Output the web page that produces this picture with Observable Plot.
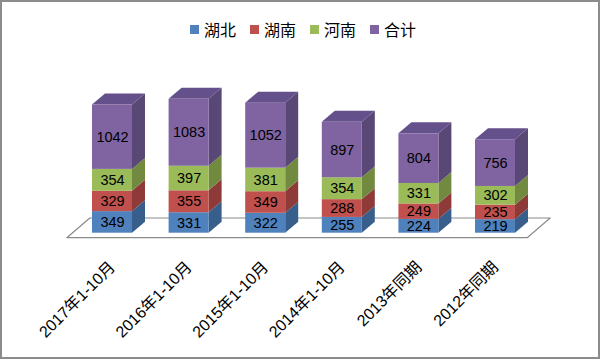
<!DOCTYPE html>
<html><head><meta charset="utf-8">
<script src="https://cdn.jsdelivr.net/npm/d3@7"></script>
<script src="https://cdn.jsdelivr.net/npm/@observablehq/plot@0.6"></script>
<style>
html,body{margin:0;padding:0;background:#fff;}
#wrap{position:relative;width:600px;height:359px;overflow:hidden;font-family:"Liberation Sans","Noto Sans CJK SC",sans-serif;background:#fff;}
#frame{position:absolute;left:0;top:0;width:600px;height:359px;box-sizing:border-box;border:2px solid #8c8c8c;pointer-events:none;}
#legend{height:58px;display:flex;align-items:center;justify-content:center;padding-left:6px;box-sizing:border-box;font-family:"Noto Sans CJK SC",sans-serif;font-size:16px;color:#000;}
.item{display:flex;align-items:center;margin:0 7px;}
.sw{width:9px;height:9px;margin-right:5px;}
svg{display:block;}
</style></head>
<body>
<div id="wrap"><div id="legend"></div><div id="chart"></div><div id="frame"></div></div>
<script>
const categories = ["2017年1-10月","2016年1-10月","2015年1-10月","2014年1-10月","2013年同期","2012年同期"];
const series = ["湖北","湖南","河南","合计"];
const hubei = [349,331,322,255,224,219];
const hunan = [329,355,349,288,249,235];
const henan = [354,397,381,354,331,302];
const heji  = [1042,1083,1052,897,804,756];

const frontColors = ["#4F81BD","#C0504D","#9BBB59","#8064A2"];
const sideColors  = ["#385E8B","#8E3A38","#718A40","#594776"];
const topColor = "#64508A";

// geometry helpers (scale-space constants)
const PX_PER_X = 76.6, PX_PER_Y = 0.0618;
const HALF = 20 / PX_PER_X;          // half front width
const DX = 13 / PX_PER_X, DY = 11 / PX_PER_Y; // bar depth

const values = [hubei, hunan, henan, heji];
const segments = [];
categories.forEach((c, i) => {
  let lo = 0;
  series.forEach((s, k) => {
    const v = values[k][i];
    segments.push({i, s, k, lo, hi: lo + v, v});
    lo += v;
  });
});
const sideData = segments.flatMap(d => [
  {key: d.i + "-" + d.k, x: d.i + HALF, y1: d.lo, y2: d.hi, c: d.s + "侧"},
  {key: d.i + "-" + d.k, x: d.i + HALF + DX, y1: d.lo + DY, y2: d.hi + DY, c: d.s + "侧"}
]);
const tops = segments.filter(d => d.k === series.length - 1);
const topData = tops.flatMap(d => [
  {key: d.i, y: d.hi, x1: d.i - HALF, x2: d.i + HALF},
  {key: d.i, y: d.hi + DY, x1: d.i - HALF + DX, x2: d.i + HALF + DX}
]);
const floorData = [
  {y: -81, x1: -0.59, x2: 5.42},
  {y: 238, x1: -0.29, x2: 5.72}
];

const colorDomain = [...series, ...series.map(s => s + "侧")];
const colorRange = [...frontColors, ...sideColors];

const legend = document.getElementById("legend");
series.forEach((s, k) => {
  const it = document.createElement("div"); it.className = "item";
  it.innerHTML = `<div class="sw" style="background:${frontColors[k]}"></div><span>${s}</span>`;
  legend.appendChild(it);
});

const chart = Plot.plot({
  width: 600, height: 301,
  marginBottom: 97,
  style: {fontFamily: '"Liberation Sans","Noto Sans CJK SC",sans-serif', fontSize: "15px", color: "#000", background: "transparent"},
  x: {type: "linear", domain: [-0.5, 5.5], range: [73.7, 533.3]},
  y: {domain: [0, 2200], range: [174.7, 38.7], axis: null},
  color: {domain: colorDomain, range: colorRange},
  marks: [
    Plot.areaX(floorData, {y: "y", x1: "x1", x2: "x2", fill: "#fff", stroke: "#8a8a8a", strokeWidth: 1.2}),
    Plot.areaY(sideData, {x: "x", y1: "y1", y2: "y2", z: "key", fill: "c", curve: "linear"}),
    Plot.areaX(topData, {y: "y", x1: "x1", x2: "x2", z: "key", fill: topColor, curve: "linear"}),
    Plot.rect(segments, {x1: d => d.i - HALF, x2: d => d.i + HALF, y1: "lo", y2: "hi", fill: "s"}),
    Plot.text(segments, {x: "i", y: d => (d.lo + d.hi) / 2, text: d => String(d.v), fontSize: 14.5, fill: "#000"}),
    Plot.axisX({ticks: d3.range(categories.length), tickFormat: i => categories[i], tickRotate: -45, tickSize: 0, tickPadding: 2, fontSize: 16, fill: "#000"})
  ]
});
document.getElementById("chart").appendChild(chart);
</script>
</body></html>
